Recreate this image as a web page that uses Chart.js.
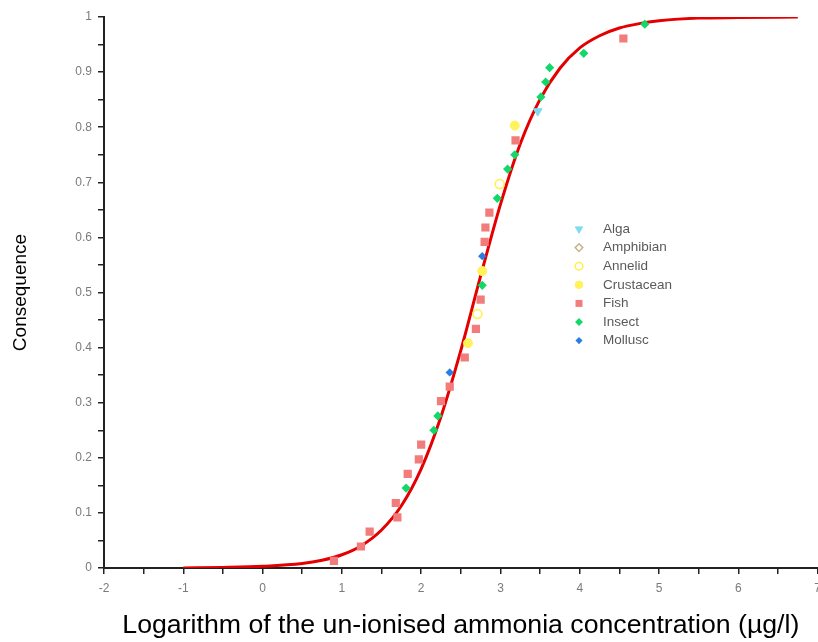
<!DOCTYPE html>
<html><head><meta charset="utf-8">
<script src="https://cdn.jsdelivr.net/npm/chart.js@4/dist/chart.umd.min.js"></script>
<style>
html,body{margin:0;padding:0;background:#fff;overflow:hidden;width:818px;height:642px}
#wrap{position:relative;width:828px;height:642px}
</style>
</head><body><div id="wrap"><canvas id="c" width="828" height="642"></canvas></div>
<script>
// ---- data ----
const species = ['Alga','Amphibian','Annelid','Crustacean','Fish','Insect','Mollusc'];

const algaX = [3.47];
const algaY = [0.829];
const amphibianX = [];
const amphibianY = [];
const annelidX = [2.71, 2.99];
const annelidY = [0.461, 0.697];
const crustaceanX = [2.59, 2.77, 3.18];
const crustaceanY = [0.408, 0.539, 0.803];
const fishX = [0.90, 1.24, 1.35, 1.70, 1.68, 1.83, 1.97, 2.00, 2.25, 2.36, 2.55, 2.69, 2.75, 2.80, 2.81, 2.86, 3.19, 4.55];
const fishY = [0.013, 0.039, 0.066, 0.092, 0.118, 0.171, 0.197, 0.224, 0.303, 0.329, 0.382, 0.434, 0.487, 0.592, 0.618, 0.645, 0.776, 0.961];
const insectX = [1.81, 2.16, 2.21, 2.77, 2.96, 3.09, 3.18, 3.51, 3.57, 3.62, 4.05, 4.82];
const insectY = [0.145, 0.250, 0.276, 0.513, 0.671, 0.724, 0.750, 0.855, 0.882, 0.908, 0.934, 0.987];
const molluscX = [2.36, 2.77];
const molluscY = [0.355, 0.566];

const curveX = [-1, -0.5, 0, 0.5, 0.75, 1, 1.25, 1.5, 1.75, 2, 2.25, 2.5, 2.75, 3, 3.25, 3.5, 3.75, 4, 4.25, 4.5, 4.75, 5, 5.5, 6, 6.75];
const curveY = [0, 0.001, 0.003, 0.008, 0.014, 0.024, 0.041, 0.069, 0.113, 0.18, 0.275, 0.395, 0.53, 0.66, 0.77, 0.851, 0.907, 0.944, 0.966, 0.98, 0.988, 0.993, 0.998, 0.999, 1];

const xMin = -2, xMax = 7, xStep = 0.5;
const yMin = 0, yMax = 1, yStep = 0.05;

const xTitle = 'Logarithm of the un-ionised ammonia concentration (\u00b5g/l)';
const yTitle = 'Consequence';

// ---- styles ----
const styles = [
  {ps:'triangle', rot:180, r:5, bg:'#7fdcf0', border:'#7fdcf0', bw:1},
  {ps:'rectRot', rot:0, r:4.5, bg:'rgba(255,255,255,0)', border:'#c8b48c', bw:1.5},
  {ps:'circle', rot:0, r:4.5, bg:'rgba(255,255,255,0)', border:'#fff04a', bw:1.5},
  {ps:'circle', rot:0, r:4.5, bg:'#fff25a', border:'#fff25a', bw:1},
  {ps:'rect', rot:0, r:5.8, bg:'#f27b7b', border:'#f27b7b', bw:0},
  {ps:'rectRot', rot:0, r:4.6, bg:'#12d86a', border:'#12d86a', bw:0},
  {ps:'rectRot', rot:0, r:4.2, bg:'#2a7de1', border:'#2a7de1', bw:0}
];
const xs = [algaX, amphibianX, annelidX, crustaceanX, fishX, insectX, molluscX];
const ys = [algaY, amphibianY, annelidY, crustaceanY, fishY, insectY, molluscY];

const pts = (a, b) => a.map((v, i) => ({x: v, y: b[i]}));

const datasets = species.map((name, i) => ({
  type: 'scatter',
  label: name,
  data: pts(xs[i], ys[i]),
  pointStyle: styles[i].ps,
  rotation: styles[i].rot,
  pointRadius: styles[i].r,
  pointBackgroundColor: styles[i].bg,
  pointBorderColor: styles[i].border,
  pointBorderWidth: styles[i].bw,
  showLine: false
}));
datasets.push({
  type: 'line',
  label: 'fit',
  data: pts(curveX, curveY),
  borderColor: '#e40000',
  borderWidth: 3,
  pointRadius: 0,
  fill: false,
  cubicInterpolationMode: 'monotone'
});

const legendPlugin = {
  id: 'insideLegend',
  afterDatasetsDraw(chart) {
    const ctx = chart.ctx;
    ctx.save();
    const top = 229, step = 18.6;
    species.forEach((name, i) => {
      const y = top + i * step;
      const st = styles[i];
      ctx.fillStyle = st.bg;
      ctx.strokeStyle = st.border;
      ctx.lineWidth = st.bw;
      Chart.helpers.drawPoint(ctx, {pointStyle: st.ps, rotation: st.rot, radius: st.r * 0.85, borderWidth: st.bw}, 579, y);
      ctx.fillStyle = '#5a5a5a';
      ctx.font = '13.5px "Liberation Sans", Arial, sans-serif';
      ctx.textBaseline = 'middle';
      ctx.textAlign = 'left';
      ctx.fillText(name, 603, y);
    });
    ctx.restore();
  }
};

const tickFont = {family: '"Liberation Sans", Arial, sans-serif', size: 12};

new Chart(document.getElementById('c'), {
  data: {datasets},
  plugins: [legendPlugin],
  options: {
    responsive: false,
    animation: false,
    layout: {padding: {top: 17, left: 0, right: 0, bottom: 0}},
    plugins: {legend: {display: false}, tooltip: {enabled: false}},
    scales: {
      x: {
        type: 'linear', min: xMin, max: xMax,
        ticks: {stepSize: xStep, autoSkip: false, maxRotation: 0, color: '#7a7a7a', font: tickFont, padding: 7,
          callback: v => Number.isInteger(v) ? String(v) : ''},
        grid: {drawOnChartArea: false, drawTicks: true, tickLength: 6, color: '#222', lineWidth: 1.5},
        border: {display: true, color: '#222', width: 2},
        title: {display: true, text: xTitle, color: '#000', font: {family: '"Liberation Sans", Arial, sans-serif', size: 26.7, lineHeight: 1.2}, padding: {top: 0, bottom: 0}},
        afterFit: s => { s.height = 74; }
      },
      y: {
        type: 'linear', min: yMin, max: yMax,
        ticks: {stepSize: yStep, autoSkip: false, color: '#7a7a7a', font: tickFont, padding: 6,
          callback: v => { const r = Math.round(v * 100); return r % 10 === 0 ? String(r / 100) : ''; }},
        grid: {drawOnChartArea: false, drawTicks: true, tickLength: 6, color: '#222', lineWidth: 1.5},
        border: {display: true, color: '#222', width: 2},
        title: {display: true, text: yTitle, color: '#000', font: {family: '"Liberation Sans", Arial, sans-serif', size: 19, lineHeight: 1.2}, padding: {top: 9, bottom: 0}},
        afterFit: s => { s.width = 104; }
      }
    }
  }
});
</script>
</body></html>
